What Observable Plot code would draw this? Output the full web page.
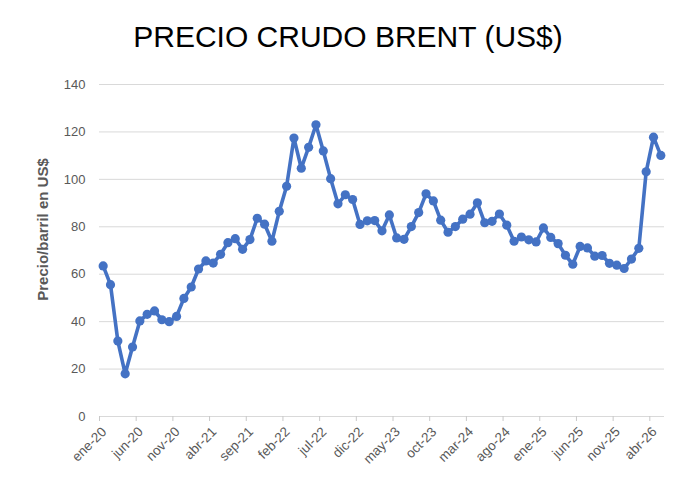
<!DOCTYPE html>
<html>
<head>
<meta charset="utf-8">
<script src="https://cdn.jsdelivr.net/npm/d3@7"></script>
<script src="https://cdn.jsdelivr.net/npm/@observablehq/plot@0.6"></script>
<style>
  html, body { margin: 0; padding: 0; background: #fff; }
  #wrap { position: relative; width: 696px; height: 481px; overflow: hidden; }
  #title { position: absolute; left: 0; width: 696px; top: 22px; text-align: center;
           font-family: "Liberation Sans", Arial, sans-serif; font-size: 30px; line-height: 30px; color: #000; }
</style>
</head>
<body>
<div id="wrap">
  <div id="title">PRECIO CRUDO BRENT (US$)</div>
</div>
<script>
const monthNames = ["ene","feb","mar","abr","may","jun","jul","ago","sep","oct","nov","dic"];
const years = ["20","21","22","23","24","25","26"];
const prices = [
  63.5, 55.6, 31.8, 18.0, 29.3, 40.3, 43.1, 44.5, 40.8, 40.0, 42.2, 49.8,
  54.6, 62.2, 65.6, 64.7, 68.4, 73.3, 75.0, 70.5, 74.6, 83.6, 81.1, 73.9,
  86.5, 97.1, 117.4, 104.7, 113.5, 123.0, 112.0, 100.3, 89.7, 93.5, 91.5, 81.0,
  82.5, 82.6, 78.3, 85.0, 75.3, 74.7, 80.1, 86.0, 93.9, 90.9, 82.8, 77.7,
  80.1, 83.2, 85.3, 90.1, 81.7, 82.3, 85.4, 80.7, 73.9, 75.7, 74.5, 73.6,
  79.5, 75.5, 72.9, 68.0, 64.2, 71.7, 71.1, 67.6, 67.9, 64.6, 63.8, 62.4,
  66.4, 70.9, 103.2, 117.8, 110.1
];
const months = years.flatMap(y => monthNames.map(m => `${m}-${y}`)).slice(0, prices.length);
const xTickLabels = ["ene-20","jun-20","nov-20","abr-21","sep-21","feb-22","jul-22","dic-22","may-23","oct-23","mar-24","ago-24","ene-25","jun-25","nov-25","abr-26"];
const yTickValues = [0, 20, 40, 60, 80, 100, 120, 140];
const yTitle = "Precio/barril en US$";

const data = months.map((m, i) => ({month: m, price: prices[i]}));

const chart = Plot.plot({
  width: 696,
  height: 481,
  marginLeft: 99,
  marginRight: 32,
  marginTop: 84,
  marginBottom: 65,
  style: {fontFamily: "'Liberation Sans', Arial, sans-serif", fontSize: "13px", background: "transparent"},
  x: {type: "point", domain: months, padding: 0.5, align: 0.5, round: false, label: null},
  y: {domain: [0, 140], label: null},
  marks: [
    Plot.gridY({ticks: yTickValues, stroke: "#d9d9d9", strokeOpacity: 1, strokeWidth: 1}),
    Plot.axisY({ticks: yTickValues, tickSize: 0, tickPadding: 14, label: null, fill: "#595959", fontSize: 13}),
    Plot.axisX({ticks: xTickLabels, tickSize: 5, dx: -3.67, tickFormat: () => "", label: null, stroke: "#c8c8c8"}),
    Plot.axisX({ticks: xTickLabels, tickRotate: -45, tickSize: 0, tickPadding: 13, dx: 1, label: null,
                fill: "#595959", fontSize: 13.5}),
    Plot.text([yTitle], {frameAnchor: "left", text: d => d, rotate: -90, textAnchor: "middle", dx: -56, dy: -21,
                fontWeight: "bold", fontSize: 15, fill: "#595959"}),
    Plot.line(data, {x: "month", y: "price", stroke: "#4472C4", strokeWidth: 3.6, curve: "linear"}),
    Plot.dot(data, {x: "month", y: "price", r: 4.6, fill: "#4472C4", stroke: "none"})
  ]
});
document.getElementById("wrap").appendChild(chart);
</script>
</body>
</html>
